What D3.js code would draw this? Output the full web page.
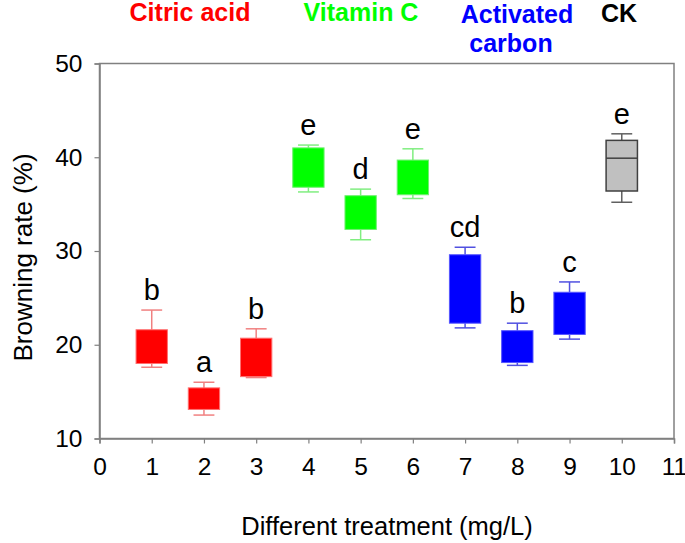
<!DOCTYPE html>
<html><head><meta charset="utf-8">
<script src="https://cdn.jsdelivr.net/npm/d3@7"></script>
<style>body{margin:0;background:#fff}svg{display:block}text{font-family:Arial,"Liberation Sans",sans-serif}</style>
</head><body><svg id="c" width="685" height="543"></svg>
<script>
const treatments = [1,2,3,4,5,6,7,8,9,10];
const whiskerLow  = [17.6,12.5,16.5,36.3,31.2,35.6,21.8,17.8,20.6,35.2];
const q1          = [18.0,13.1,16.6,36.8,32.3,36.0,22.3,18.1,21.1,36.4];
const median      = [null,null,null,null,null,null,null,null,null,39.9];
const q3          = [21.6,15.4,20.7,41.0,35.9,39.7,29.6,21.5,25.6,41.8];
const whiskerHigh = [23.7,16.0,21.7,41.3,36.6,40.9,30.4,22.3,26.7,42.5];
const letters     = ["b","a","b","e","d","e","cd","b","c","e"];
const groupOf     = [0,0,0,1,1,1,2,2,2,3];
const groupNames  = [["Citric acid"],["Vitamin C"],["Activated","carbon"],["CK"]];
const fills   = ["#ff0000","#00ff00","#0000ff","#c0c0c0"];
const strokes = ["#ff7070","#70f070","#5555ff","#404040"];
const whisk   = ["#f08080","#80ee80","#5050e0","#606060"];
const textCol = ["#ff0000","#00ff00","#0000ff","#000000"];
const xTicks = d3.range(0,12);
const yTicks = [10,20,30,40,50];

const svg = d3.select("#c");
const x = d3.scaleLinear().domain([0,11]).range([99.5,674]);
const y = d3.scaleLinear().domain([10,50]).range([438.5,63.5]);
const frame = "#808080";

// header layout (pixel positions)
const headerX = [190,361,517,619];
const headerY = [20.5,20.5,23,22];

svg.append("rect").attr("x",x(0)).attr("y",y(50)).attr("width",x(11)-x(0)).attr("height",y(10)-y(50))
  .attr("fill","none").attr("stroke",frame).attr("stroke-width",1.5);

const xa = svg.append("g").attr("transform",`translate(0,${y(10)})`)
  .call(d3.axisBottom(x).tickValues(xTicks).tickSize(5).tickPadding(14).tickFormat(d3.format("d")));
const ya = svg.append("g").attr("transform",`translate(${x(0)},0)`)
  .call(d3.axisLeft(y).tickValues(yTicks).tickSize(5).tickPadding(12).tickFormat(d3.format("d")));
[xa,ya].forEach(g=>{
  g.select(".domain").attr("stroke",frame).attr("stroke-width",1.5);
  g.selectAll(".tick line").attr("stroke",frame).attr("stroke-width",1.2);
  g.selectAll(".tick text").attr("font-size",24.5).attr("fill","#000").style("font-family","Arial, 'Liberation Sans', sans-serif");
});

const bw = 0.6, cw = 0.4;
const g = svg.append("g");
treatments.forEach((t,i)=>{
  const k = groupOf[i];
  const cx = x(t);
  const hw = (x(bw)-x(0))/2, hc = (x(cw)-x(0))/2;
  g.append("line").attr("x1",cx).attr("x2",cx).attr("y1",y(whiskerHigh[i])).attr("y2",y(q3[i])).attr("stroke",whisk[k]).attr("stroke-width",1.5);
  g.append("line").attr("x1",cx).attr("x2",cx).attr("y1",y(whiskerLow[i])).attr("y2",y(q1[i])).attr("stroke",whisk[k]).attr("stroke-width",1.5);
  g.append("line").attr("x1",cx-hc).attr("x2",cx+hc).attr("y1",y(whiskerHigh[i])).attr("y2",y(whiskerHigh[i])).attr("stroke",whisk[k]).attr("stroke-width",1.5);
  g.append("line").attr("x1",cx-hc).attr("x2",cx+hc).attr("y1",y(whiskerLow[i])).attr("y2",y(whiskerLow[i])).attr("stroke",whisk[k]).attr("stroke-width",1.5);
  g.append("rect").attr("x",cx-hw).attr("y",y(q3[i])).attr("width",2*hw).attr("height",y(q1[i])-y(q3[i]))
    .attr("fill",fills[k]).attr("stroke",strokes[k]).attr("stroke-width",k===3?1.5:1);
  if(median[i]!==null){
    g.append("line").attr("x1",cx-hw).attr("x2",cx+hw).attr("y1",y(median[i])).attr("y2",y(median[i])).attr("stroke",strokes[k]).attr("stroke-width",1.5);
  }
  g.append("text").attr("x",cx).attr("y",y(whiskerHigh[i])-10).attr("text-anchor","middle")
    .attr("font-size",29).attr("fill","#000").text(letters[i]);
});

groupNames.forEach((lines,k)=>{
  const tx = svg.append("text").attr("text-anchor","middle").attr("font-size",25).attr("font-weight","bold")
    .attr("fill",textCol[k]).attr("y",headerY[k]);
  lines.forEach((s,j)=>tx.append("tspan").attr("x",headerX[k] - (j?6:0)).attr("dy",j?29:0).text(s));
});

svg.append("text").attr("x",387).attr("y",535).attr("text-anchor","middle").attr("font-size",25.5).attr("fill","#000")
  .text("Different treatment (mg/L)");
svg.append("text").attr("transform","translate(31.5,257.5) rotate(-90)").attr("text-anchor","middle").attr("font-size",26).attr("fill","#000")
  .text("Browning rate (%)");
</script></body></html>
